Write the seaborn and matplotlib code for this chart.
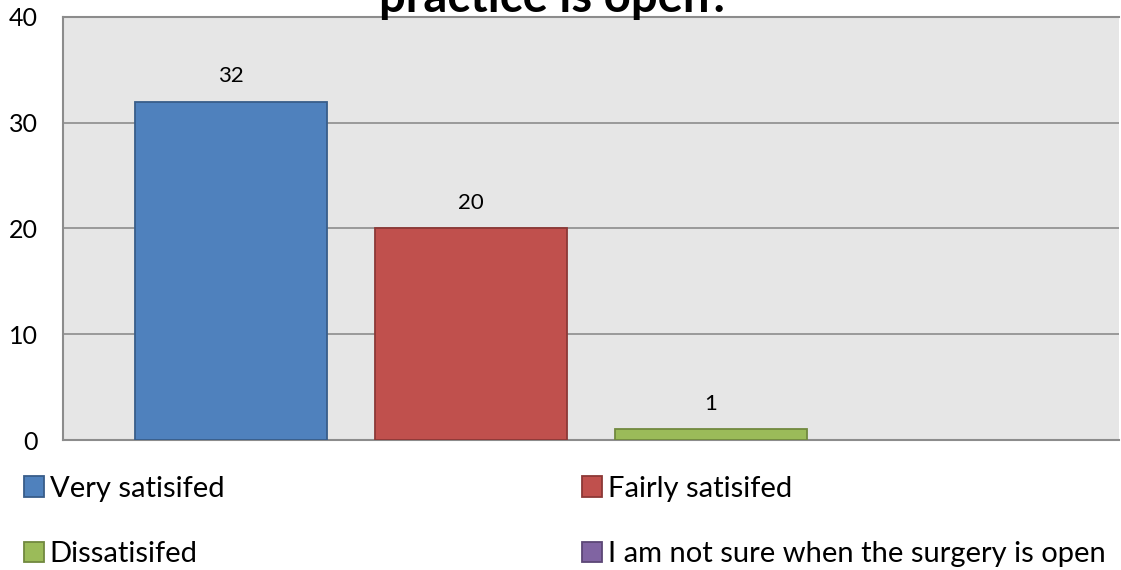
import matplotlib
matplotlib.use("Agg")
import matplotlib.pyplot as plt
from matplotlib.patches import Patch
import seaborn as sns
import pandas as pd

# Survey answers and counts
categories = ["Very satisifed", "Fairly satisifed", "Dissatisifed",
              "I am not sure when the surgery is open"]
counts = [32, 20, 1, 0]
title_text = "practice is open?"
y_ticks = [0, 10, 20, 30, 40]

fill_colors = ["#4F81BD", "#C0504D", "#9BBB59", "#8064A2"]
edge_colors = ["#385D8A", "#8C3836", "#71893F", "#5C4776"]

sns.set_theme(style="white")
plt.rcParams["font.family"] = ["Lato", "DejaVu Sans"]
plt.rcParams["text.color"] = "black"

df = pd.DataFrame({"answer": categories, "count": counts})

fig = plt.figure(figsize=(11.21, 5.70), dpi=100)
ax = fig.add_axes([63 / 1121, 1 - 440 / 570, 1056 / 1121, 423 / 570])
ax.set_facecolor("#E6E6E6")

sns.barplot(data=df, x="answer", y="count", hue="answer",
            palette=fill_colors, saturation=1, width=0.8, legend=False,
            ax=ax, zorder=3)
for patch, ec, val in zip(ax.patches, edge_colors, counts):
    patch.set_edgecolor(ec)
    patch.set_linewidth(1.3 if val > 0 else 0)

# value labels above non-empty bars
for patch, val in zip(ax.patches, counts):
    if val > 0:
        ax.annotate(f"{val}", (patch.get_x() + patch.get_width() / 2, val),
                    xytext=(0, 11), textcoords="offset points",
                    ha="center", va="bottom", fontsize=16, color="black")

ax.set_xlim(-0.7, 3.7)
ax.set_ylim(0, 40)
ax.set_yticks(y_ticks)
ax.set_xticks([])
ax.set_xlabel("")
ax.set_ylabel("")
ax.tick_params(axis="y", length=0, pad=18, labelsize=18, labelcolor="black")
for lbl in ax.get_yticklabels():
    lbl.set_horizontalalignment("right")

ax.yaxis.grid(True, color="#8C8C8C", linewidth=1.2, zorder=0)
ax.set_axisbelow(True)
for side in ["left", "bottom", "top"]:
    ax.spines[side].set_visible(True)
    ax.spines[side].set_color("#8C8C8C")
    ax.spines[side].set_linewidth(1.5)
ax.spines["right"].set_visible(False)

# chart title, partially above the canvas
fig.text(555 / 1121, 1 - 12 / 570, title_text, ha="center", va="baseline",
         fontsize=34, fontweight="bold", color="black")

# legend laid out row by row: two columns
order = [0, 2, 1, 3]
handles = [Patch(facecolor=fill_colors[i], edgecolor=edge_colors[i],
                 linewidth=1.3) for i in order]
labels = [categories[i] for i in order]
fig.legend(handles, labels, ncol=2, loc="upper left",
           bbox_to_anchor=(9 / 1121, 1 - 461 / 570), frameon=False,
           fontsize=21, handlelength=0.7, handleheight=0.7,
           handletextpad=0.2, columnspacing=12.25, labelspacing=1.35,
           borderpad=0, labelcolor="black")

fig.savefig("out.png", dpi=100)
